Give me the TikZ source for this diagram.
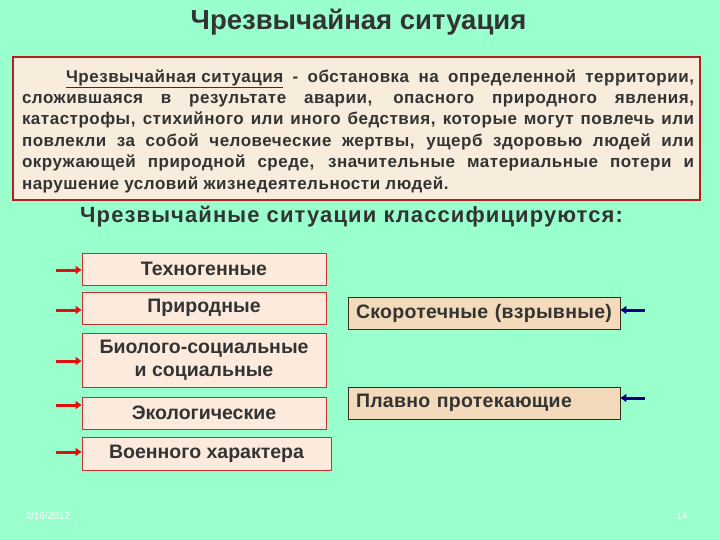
\documentclass[tikz,border=0pt]{standalone}
\usepackage{fontspec}
\setmainfont{Liberation Sans}
\usetikzlibrary{arrows.meta}
\definecolor{bg}{HTML}{99FFCC}
\definecolor{defFill}{HTML}{F8ECDC}
\definecolor{defBorder}{HTML}{B02020}
\definecolor{txt}{HTML}{333333}
\definecolor{leftFill}{HTML}{FCEBDD}
\definecolor{leftBorder}{HTML}{C83030}
\definecolor{rightFill}{HTML}{F2DABB}
\definecolor{rightBorder}{HTML}{3A2A1A}
\definecolor{redArrow}{HTML}{E01010}
\definecolor{blueArrow}{HTML}{000080}
\tikzset{
  leftbox/.style={draw=leftBorder, fill=leftFill, line width=0.9pt, text=txt,
    minimum width=244pt, minimum height=32pt, inner sep=2pt, align=center,
    font=\fontsize{19.5}{23}\bfseries\selectfont},
  rightbox/.style={draw=rightBorder, fill=rightFill, line width=0.9pt, text=txt,
    minimum width=272pt, minimum height=32pt, inner sep=2pt,
    font=\fontsize{19.5}{22}\bfseries\selectfont\addfontfeature{LetterSpace=1.5}},
  redarr/.style={draw=redArrow, line width=3pt, -{Triangle[length=6pt,width=8pt]}},
  bluearr/.style={draw=blueArrow, line width=3pt, -{Triangle[length=6pt,width=8pt]}},
}
\begin{document}
\begin{tikzpicture}[x=1pt,y=-1pt]
\fill[bg] (0,0) rectangle (720,540);
\useasboundingbox (0,0) rectangle (720,540);

\node[font=\fontsize{27.5}{30}\bfseries\selectfont, text=txt] (title) at (358.5,22) {Чрезвычайная ситуация};

\node[draw=defBorder, fill=defFill, line width=2pt, minimum width=687pt, minimum height=143pt,
  inner sep=0pt] (defbox) at (356.5,128.5) {};
\node[text=txt, text width=672pt, align=justify, inner sep=0pt,
  font=\fontsize{17}{21.4}\bfseries\selectfont\addfontfeature{LetterSpace=3}] (deftext) at (358,131)
{\hspace*{44pt}\underline{Чрезвычайная ситуация} - обстановка на определенной территории,\linebreak
сложившаяся в результате аварии, опасного природного явления,\linebreak
катастрофы, стихийного или иного бедствия, которые могут повлечь или\linebreak
повлекли за собой человеческие жертвы, ущерб здоровью людей или\linebreak
окружающей природной среде, значительные материальные потери и\linebreak
нарушение условий жизнедеятельности людей.};

\node[font=\fontsize{22}{24}\bfseries\selectfont\addfontfeature{LetterSpace=5}, text=txt, anchor=west, inner sep=0pt] (sub) at (80,217) {Чрезвычайные ситуации классифицируются:};

\node[leftbox] (tech) at (204,269) {Техногенные};
\node[leftbox] (nat) at (204,308) {Природные};
\node[leftbox, minimum height=54pt] (bio) at (204,360) {Биолого-социальные\\и социальные};
\node[leftbox] (eco) at (204,413) {Экологические};
\node[leftbox, minimum width=249pt, minimum height=33pt] (mil) at (206.5,453.5) {Военного характера};

\node[rightbox, text width=262pt, align=left] (fast) at (484,313) {\hspace*{3pt}Скоротечные (взрывные)};
\node[rightbox, text width=262pt, align=left] (slow) at (484,403) {\hspace*{3pt}Плавно протекающие};

\coordinate (t1) at (56,270);
\coordinate (t2) at (56,310);
\coordinate (t3) at (56,361);
\coordinate (t4) at (56,405);
\coordinate (t5) at (56,452);
\draw[redarr] (t1) -- (t1 -| tech.west);
\draw[redarr] (t2) -- (t2 -| nat.west);
\draw[redarr] (t3) -- (t3 -| bio.west);
\draw[redarr] (t4) -- (t4 -| eco.west);
\draw[redarr] (t5) -- (t5 -| mil.west);

\coordinate (b1) at (645,310);
\coordinate (b2) at (645,398);
\draw[bluearr] (b1) -- (b1 -| fast.east);
\draw[bluearr] (b2) -- (b2 -| slow.east);

\node[text=white, font=\fontsize{10}{12}\selectfont, anchor=west] (date) at (22,516) {2/16/2012};
\node[text=white, font=\fontsize{10}{12}\selectfont] (page) at (682,516) {14};
\end{tikzpicture}
\end{document}
